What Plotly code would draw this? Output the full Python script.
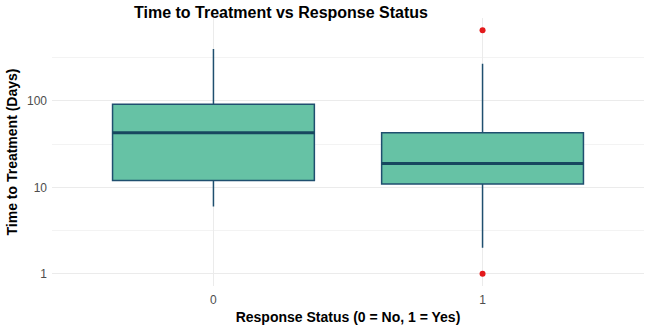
import plotly.graph_objects as go

# Data
categories = [0, 1]
tick_labels = ["0", "1"]
lower_whisker = [6.0, 2.0]
q1 = [12.0, 10.9]
median = [42.7, 18.9]
q3 = [91.0, 42.6]
upper_whisker = [396.0, 268.0]
outlier_x = [1, 1]
outlier_y = [655.0, 1.0]

box_width = 0.75
fill_col = "#66c2a5"
line_col = "#1f4f6f"
median_col = "#17475f"

fig = go.Figure()
fig.add_trace(go.Box(
    x=categories, q1=q1, median=median, q3=q3,
    lowerfence=lower_whisker, upperfence=upper_whisker,
    width=box_width, whiskerwidth=0, fillcolor=fill_col,
    line=dict(color=line_col, width=1.5),
    boxpoints=False, showlegend=False, hoverinfo="skip",
))
for c, m in zip(categories, median):
    fig.add_trace(go.Scatter(
        x=[c - box_width / 2, c + box_width / 2], y=[m, m],
        mode="lines", line=dict(color=median_col, width=3),
        showlegend=False, hoverinfo="skip",
    ))
fig.add_trace(go.Scatter(
    x=outlier_x, y=outlier_y, mode="markers",
    marker=dict(color="#e31a1c", size=6),
    showlegend=False, hoverinfo="skip",
))

fig.update_layout(
    width=647, height=330,
    margin=dict(l=52, r=3, t=18, b=44),
    plot_bgcolor="white", paper_bgcolor="white",
    font=dict(family="Liberation Sans, Arial, sans-serif", color="#4d4d4d", size=12),
    title=dict(text="<b>Time to Treatment vs Response Status</b>",
               x=281 / 647, xanchor="center", xref="container",
               y=1 - 12 / 330, yanchor="middle", yref="container",
               font=dict(size=16, color="black")),
    xaxis=dict(
        range=[-0.6, 1.6], tickvals=categories, ticktext=tick_labels,
        showgrid=True, gridcolor="#ebebeb", gridwidth=1, zeroline=False,
        showline=False, ticks="", ticklen=0, ticklabelstandoff=5,
        title=dict(text="<b>Response Status (0 = No, 1 = Yes)</b>",
                   font=dict(size=14, color="black"), standoff=6),
        tickfont=dict(size=12, color="#4d4d4d"),
    ),
    yaxis=dict(
        type="log", range=[-0.141, 2.957],
        tickvals=[1, 10, 100], ticktext=["1", "10", "100"],
        showgrid=True, gridcolor="#ebebeb", gridwidth=1, zeroline=False,
        showline=False, ticks="", ticklabelstandoff=4,
        minor=dict(tickvals=[3.1623, 31.623, 316.23], showgrid=True,
                   gridcolor="#f3f3f3", gridwidth=1),
        title=dict(text="<b>Time to Treatment (Days)</b>",
                   font=dict(size=14, color="black"), standoff=6),
        tickfont=dict(size=12, color="#4d4d4d"),
    ),
)

fig.write_html("out.html")
